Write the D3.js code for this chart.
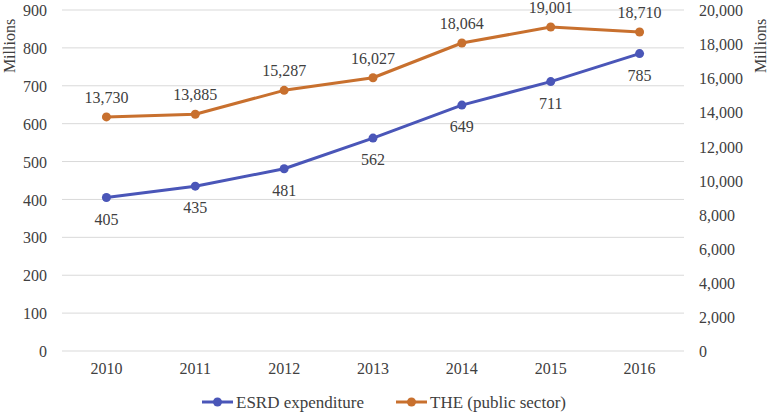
<!DOCTYPE html>
<html><head><meta charset="utf-8">
<script src="https://cdn.jsdelivr.net/npm/d3@7"></script>
</head><body style="margin:0"><svg id="c" width="769" height="414" style="display:block;font-family:'Liberation Serif',serif"></svg>
<script>
const years = ["2010","2011","2012","2013","2014","2015","2016"];
const esrd = [405,435,481,562,649,711,785];
const the = [13730,13885,15287,16027,18064,19001,18710];
const leftTicks = [0,100,200,300,400,500,600,700,800,900];
const rightTicks = [0,2000,4000,6000,8000,10000,12000,14000,16000,18000,20000];
const blue = "#4A56B8", orange = "#C8702E";

const svg = d3.select("#c");
const L = 62, R = 684, T = 10, B = 351;
const x = d3.scaleBand().domain(years).range([L, R]);
const yL = d3.scaleLinear().domain([0,900]).range([B, T]);
const yR = d3.scaleLinear().domain([0,20000]).range([B, T]);
const fmt = d3.format(",");

function styleText(sel, size){
  sel.style("font-family", "'Liberation Serif', serif").style("font-size", (size||16)+"px").attr("fill", "#404040");
}

// gridlines
svg.append("g").selectAll("line").data(leftTicks).join("line")
  .attr("x1", L).attr("x2", R).attr("y1", d=>yL(d)).attr("y2", d=>yL(d))
  .attr("stroke", "#d9d9d9").attr("stroke-width", 1);

// left axis
const gl = svg.append("g").attr("transform", `translate(${L},0)`)
  .call(d3.axisLeft(yL).tickValues(leftTicks).tickSize(0).tickPadding(15));
gl.attr("font-family", null).attr("font-size", null);
gl.select(".domain").remove();
gl.selectAll("text").call(styleText).attr("dy","0.35em");

// right axis
const gr = svg.append("g").attr("transform", `translate(${R},0)`)
  .call(d3.axisRight(yR).tickValues(rightTicks).tickFormat(fmt).tickSize(0).tickPadding(15));
gr.attr("font-family", null).attr("font-size", null);
gr.select(".domain").remove();
gr.selectAll("text").call(styleText).attr("dy","0.35em");

// x axis
const gx = svg.append("g").attr("transform", `translate(0,${B})`)
  .call(d3.axisBottom(x).tickSize(0).tickPadding(12));
gx.attr("font-family", null).attr("font-size", null);
gx.select(".domain").remove();
gx.selectAll("text").call(styleText);

// axis titles
svg.append("text").attr("transform","translate(15,46) rotate(-90)").attr("text-anchor","middle")
  .call(styleText).text("Millions");
svg.append("text").attr("transform","translate(766,46) rotate(-90)").attr("text-anchor","middle")
  .call(styleText).text("Millions");

const cx = d => x(d) + x.bandwidth()/2;

// THE line
svg.append("path").datum(the).attr("fill","none").attr("stroke",orange).attr("stroke-width",3)
  .attr("stroke-linejoin","round")
  .attr("d", d3.line().x((d,i)=>cx(years[i])).y(d=>yR(d)));
svg.append("g").selectAll("circle").data(the).join("circle")
  .attr("cx",(d,i)=>cx(years[i])).attr("cy",d=>yR(d)).attr("r",4.5).attr("fill",orange);
svg.append("g").selectAll("text").data(the).join("text")
  .attr("x",(d,i)=>cx(years[i])).attr("y",d=>yR(d)-14).attr("text-anchor","middle")
  .call(styleText).text(d=>fmt(d));

// ESRD line
svg.append("path").datum(esrd).attr("fill","none").attr("stroke",blue).attr("stroke-width",3)
  .attr("stroke-linejoin","round")
  .attr("d", d3.line().x((d,i)=>cx(years[i])).y(d=>yL(d)));
svg.append("g").selectAll("circle").data(esrd).join("circle")
  .attr("cx",(d,i)=>cx(years[i])).attr("cy",d=>yL(d)).attr("r",4.5).attr("fill",blue);
svg.append("g").selectAll("text").data(esrd).join("text")
  .attr("x",(d,i)=>cx(years[i])).attr("y",d=>yL(d)+27).attr("text-anchor","middle")
  .call(styleText).text(d=>d);

// legend
const legend = [{name:"ESRD expenditure", color:blue, x:202},{name:"THE (public sector)", color:orange, x:396}];
const lg = svg.append("g").selectAll("g").data(legend).join("g").attr("transform", d=>`translate(${d.x},402)`);
lg.append("line").attr("x1",0).attr("x2",31).attr("stroke",d=>d.color).attr("stroke-width",3);
lg.append("circle").attr("cx",15.5).attr("r",4.5).attr("fill",d=>d.color);
lg.append("text").attr("x",34).attr("dy","0.35em").call(styleText, 17).text(d=>d.name);
</script></body></html>
